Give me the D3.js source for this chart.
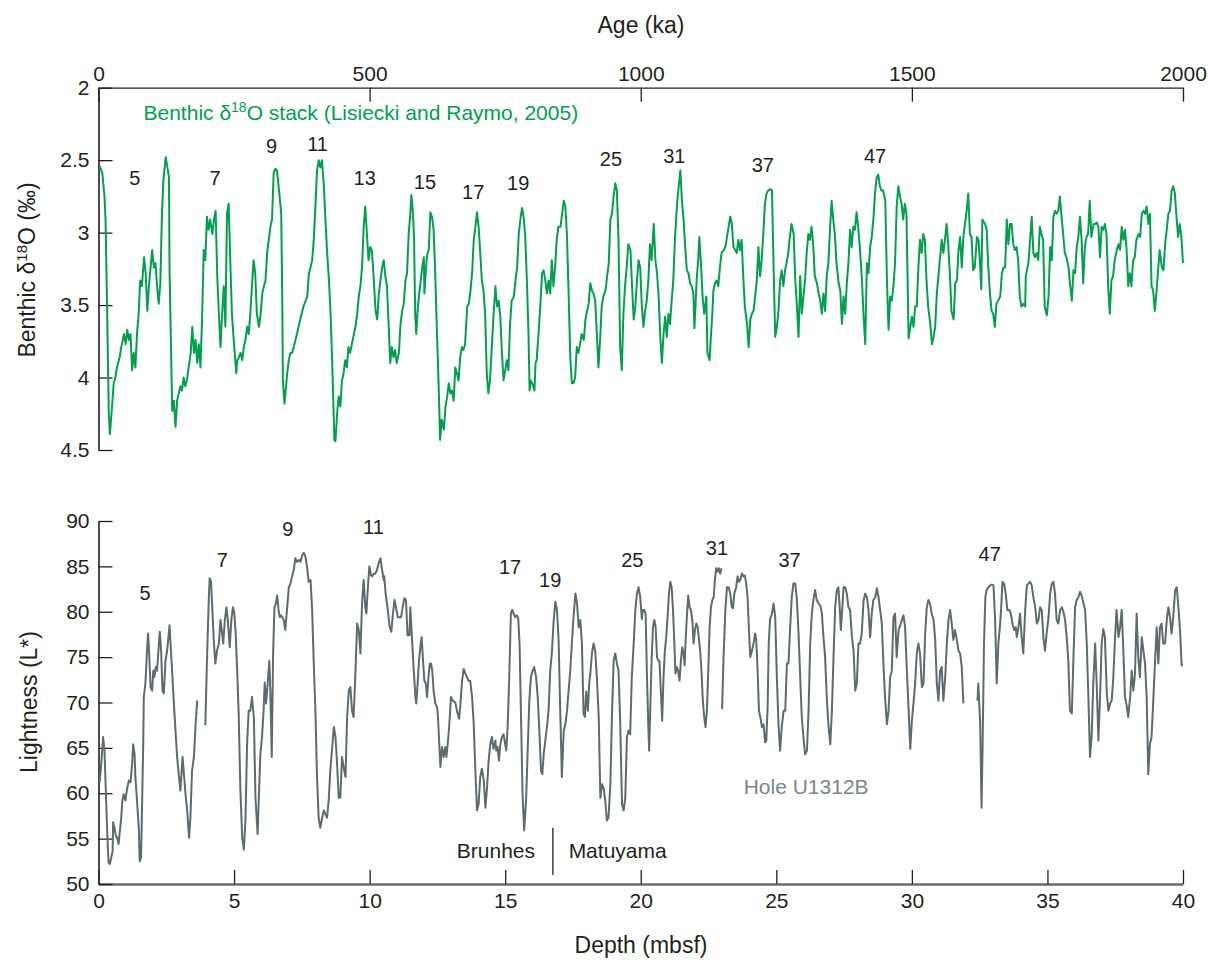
<!DOCTYPE html>
<html>
<head>
<meta charset="UTF-8">
<script src="https://cdn.jsdelivr.net/npm/d3@7"></script>
<style>
    body { margin: 0; background: #fff; }
    svg { display: block; font-family: "Liberation Sans", Arial, Helvetica, sans-serif; }
    .line { fill: none; stroke-width: 2; stroke-linejoin: round; }
</style>
</head>
<body>
<div id="chart"></div>
<script>
// Benthic d18O stack (age in ka, value in permil)
var ageKa = [2,7,11,13,16,19,21,25,28,31,34,39,42,47,50,53,56,59,62,65,68,71,74,77,80,84,87,90,93,96,99,102,105,108,111,114,117,120,124,127,130,131,136,139,142,145,148,151,154,157,160,163,170,173,176,179,182,185,188,191,194,197,200,203,206,210,213,216,219,222,225,228,231,234,237,240,243,246,249,254,256,259,262,265,268,271,274,277,280,283,286,289,292,296,299,302,305,308,311,314,317,320,323,326,329,331,334,337,339,340,343,348,351,354,357,360,366,369,372,378,385,388,391,394,397,400,403,406,409,412,415,418,421,425,428,431,433,435,437,440,443,446,449,452,455,458,461,464,471,474,477,480,483,486,489,492,495,498,501,
    504,507,511,514,517,520,523,526,529,532,535,538,541,544,547,550,554,557,560,563,566,569,572,575,577,580,582,584,586,589,591,593,597,600,601,605,607,609,612,615,618,621,624,627,630,633,637,640,643,646,649,652,655,658,661,664,667,670,673,676,680,683,686,689,692,695,698,701,704,707,710,713,716,719,722,726,729,732,735,738,741,744,747,750,753,756,759,762,766,769,772,775,778,781,784,787,790,793,795,797,800,804,806,808,812,815,818,821,824,827,830,833,836,839,842,845,848,852,855,858,861,864,867,870,873,876,879,882,885,888,891,895,898,901,904,907,910,913,916,919,922,925,928,931,935,938,941,944,947,950,953,956,959,962,965,968,971,974,977,981,984,987,990,993,996,999,
    1002,1005,1008,1011,1014,1017,1020,1024,1027,1030,1033,1036,1039,1042,1045,1048,1051,1054,1057,1060,1063,1067,1070,1073,1076,1079,1082,1085,1088,1091,1094,1097,1099,1102,1103,1106,1108,1111,1114,1117,1121,1123,1127,1129,1132,1134,1137,1140,1143,1146,1149,1153,1156,1159,1162,1165,1168,1171,1174,1177,1180,1183,1186,1189,1192,1196,1199,1202,1205,1208,1211,1214,1217,1220,1223,1226,1229,1232,1235,1239,1242,1245,1248,1251,1254,1257,1260,1263,1266,1269,1272,1275,1278,1282,1285,1288,1291,1294,1297,1300,1303,1306,1309,1312,1315,1318,1321,1325,1328,1331,1334,1337,1340,1343,1346,1349,1352,1355,1358,1361,1365,1368,1371,1374,1377,1380,1383,1386,1389,1392,1395,1398,1401,1404,1408,1411,1414,1417,1420,1423,1426,1429,1432,1435,1438,1441,1444,1447,1451,1454,1457,1460,1463,1466,1469,1472,1475,1478,1481,1484,1487,1490,1494,
    1500,1503,1506,1509,1512,1515,1518,1521,1524,1527,1530,1534,1537,1540,1543,1546,1549,1552,1555,1558,1561,1564,1567,1570,1573,1577,1580,1583,1586,1589,1592,1595,1598,1601,1604,1607,1610,1613,1616,1620,1623,1626,1628,1630,1635,1638,1641,1644,1647,1650,1653,1656,1659,1663,1666,1669,1672,1675,1678,1681,1684,1687,1690,1693,1696,1699,1702,1706,1709,1710,1715,1718,1721,1724,1727,1730,1733,1736,1739,1742,1745,1749,1752,1755,1758,1761,1764,1767,1770,1773,1776,1779,1782,1785,1789,1792,1795,1798,1801,1804,1807,1810,1813,1816,1819,1822,1825,1828,1831,1835,1838,1841,1844,1847,1850,1853,1856,1859,1862,1865,1868,1871,1874,1878,1881,1884,1887,1890,1893,1896,1899,1902,1905,1908,1911,1914,1918,1921,1924,1927,1930,1933,1936,1939,1942,1945,1948,1951,1954,1957,1961,1964,1967,1970,1973,1976,1979,1982,1985,1988,1991,1994,1997,2000];
var d18O = [2.54,2.59,2.75,2.91,3.56,4.25,4.39,4.20,4.04,4.00,3.93,3.86,3.79,3.70,3.77,3.67,3.74,3.70,3.95,3.83,3.93,3.70,3.56,3.33,3.37,3.17,3.28,3.54,3.37,3.24,3.12,3.24,3.21,3.37,3.49,3.35,2.87,2.62,2.48,2.55,2.62,3.26,4.23,4.16,4.34,4.16,4.11,4.06,4.09,4.00,4.06,4.02,3.83,3.65,3.83,3.74,3.90,3.77,3.93,3.60,3.12,3.19,2.89,2.98,2.91,3.01,2.91,2.85,3.30,3.56,3.79,3.56,3.37,3.65,2.87,2.80,3.19,3.56,3.72,3.97,3.88,3.86,3.83,3.88,3.79,3.74,3.65,3.70,3.56,3.37,3.19,3.28,3.56,3.65,3.56,3.42,3.37,3.33,3.14,3.05,2.96,2.91,2.59,2.56,2.57,2.64,2.75,2.87,3.51,4.02,4.18,3.97,3.88,3.83,3.83,3.79,3.70,3.65,3.60,3.51,3.44,3.28,3.24,3.19,3.05,2.82,2.57,2.50,2.55,2.50,2.64,2.87,3.10,3.33,3.56,3.90,4.16,4.43,4.44,4.25,4.13,4.20,4.02,3.97,3.88,3.93,3.79,3.83,3.70,3.65,3.56,3.44,3.37,3.24,2.96,2.82,3.01,3.19,3.10,
    3.12,3.28,3.54,3.60,3.42,3.33,3.24,3.19,3.30,3.37,3.63,3.90,3.79,3.86,3.81,3.90,3.83,3.63,3.54,3.49,3.33,3.28,3.01,2.87,2.74,2.87,3.05,3.56,3.70,3.51,3.44,3.37,3.24,3.17,3.42,3.19,3.14,3.12,2.86,2.89,2.98,3.28,3.67,4.02,4.43,4.29,4.36,4.20,4.13,4.04,4.11,4.09,4.16,3.93,3.97,4.02,3.86,3.79,3.81,3.77,3.51,3.49,3.40,3.28,3.05,2.96,2.86,2.96,3.14,3.33,3.40,3.56,3.97,4.11,4.02,3.74,3.54,3.37,3.51,3.47,3.58,3.83,4.02,3.95,3.88,3.95,3.63,3.47,3.44,3.33,3.24,3.01,2.91,2.83,2.89,3.03,3.33,3.70,4.09,4.02,4.04,4.09,3.90,3.88,3.67,3.49,3.28,3.26,3.33,3.42,3.33,3.42,3.19,3.37,3.24,3.05,2.96,2.96,2.87,2.78,2.82,3.03,3.42,3.86,4.04,4.04,4.00,3.79,3.83,3.77,3.70,3.74,3.60,3.54,3.49,3.35,3.40,3.42,3.47,3.70,3.93,3.74,3.51,3.44,3.40,3.30,3.21,2.91,2.87,2.75,2.66,2.71,3.05,3.79,3.95,3.56,3.37,3.24,3.08,3.12,3.37,3.60,3.51,3.33,3.19,3.24,
    3.51,3.65,3.54,3.47,3.33,3.08,3.19,2.94,3.19,3.28,3.44,3.72,3.90,3.70,3.58,3.72,3.56,3.63,3.47,3.33,3.05,2.80,2.68,2.57,2.78,2.91,3.10,3.26,3.28,3.35,3.37,3.42,3.66,3.42,3.33,3.19,3.03,3.21,3.44,3.56,3.44,3.83,3.88,3.74,3.56,3.40,3.35,3.33,3.37,3.24,3.14,3.12,3.10,3.03,2.96,2.89,2.94,3.10,3.12,3.14,3.05,3.12,3.05,3.30,3.51,3.63,3.79,3.60,3.56,3.54,3.44,3.33,3.10,3.30,3.19,3.01,2.80,2.73,2.71,2.70,2.71,3.24,3.72,3.65,3.54,3.33,3.26,3.37,3.26,3.21,3.14,3.03,2.94,3.01,3.33,3.51,3.72,3.30,3.56,3.44,3.33,3.14,3.01,3.05,2.96,3.08,3.30,3.35,3.42,3.47,3.56,3.42,3.54,3.30,3.21,2.98,2.78,2.91,3.01,3.21,3.35,3.40,3.63,3.44,3.56,3.35,3.21,2.98,3.10,2.96,2.98,2.86,2.96,3.10,3.33,3.58,3.77,3.21,3.28,3.10,3.03,2.91,2.73,2.62,2.60,2.68,2.71,2.71,2.78,3.33,3.67,3.44,3.47,3.37,3.21,2.82,2.68,2.75,2.80,2.91,2.80,2.87,3.73,
    3.58,3.65,3.51,3.51,3.24,3.05,3.14,3.01,3.05,3.33,3.51,3.63,3.77,3.72,3.65,3.42,3.30,3.17,3.05,3.14,3.05,2.94,3.08,3.28,3.54,3.60,3.35,3.33,3.12,3.03,3.24,3.03,2.94,2.85,2.73,3.01,3.03,3.26,3.24,3.03,3.05,3.24,3.39,2.91,2.94,2.98,3.24,3.42,3.54,3.56,3.65,3.49,3.47,3.44,3.28,3.24,3.24,2.91,3.08,2.94,2.94,3.08,3.12,3.10,3.19,3.44,3.51,3.49,3.51,3.30,3.21,3.05,2.89,3.14,3.17,3.14,3.19,2.96,3.01,3.05,3.51,3.57,3.44,3.10,3.19,2.89,2.85,2.87,2.85,2.75,2.89,3.01,3.14,3.17,3.24,3.37,3.47,3.26,3.28,3.10,3.03,2.89,3.05,3.35,3.10,3.03,3.01,2.78,3.03,2.94,2.94,2.93,2.96,3.17,2.96,2.98,2.94,3.01,3.37,3.56,3.33,3.30,3.19,3.12,3.08,3.12,2.96,3.05,2.98,3.12,3.37,3.28,3.37,3.19,3.17,3.05,3.01,3.03,2.87,2.85,2.87,2.82,2.94,2.87,3.37,3.40,3.54,3.42,3.26,3.12,3.24,3.26,3.08,2.98,2.87,2.85,2.71,2.68,2.73,2.89,3.03,2.94,3.03,3.21];

// Hole U1312B lightness (depth in m, L*); null = core gap
var depthM = [0.04,0.10,0.17,0.22,0.27,0.32,0.37,0.42,0.47,0.52,0.54,0.59,0.64,0.69,0.74,0.79,0.84,0.88,0.93,0.99,1.06,1.12,1.18,1.24,1.28,1.33,1.36,1.43,1.49,1.52,1.57,1.61,1.65,1.67,1.73,1.79,1.83,1.87,1.92,1.98,2.02,2.06,2.11,2.16,2.22,2.26,2.31,2.36,2.41,2.47,2.53,2.62,2.65,2.72,2.78,2.84,2.90,2.96,3.02,3.06,3.10,3.15,3.21,3.27,3.34,3.39,3.45,3.52,3.58,3.64,3.80,
    3.94,4.01,4.07,4.10,4.15,4.20,4.25,4.31,4.37,4.44,4.50,4.56,4.60,4.66,4.72,4.77,4.84,4.90,4.96,5.01,5.06,5.11,5.17,5.23,5.30,5.36,5.42,5.48,5.54,5.60,5.66,5.73,5.79,5.87,5.91,5.97,6.03,6.09,6.13,6.18,6.24,6.30,6.34,6.39,6.44,6.49,6.54,6.59,6.64,6.69,6.73,6.78,6.83,6.89,6.96,7.02,7.08,7.14,7.20,7.26,7.32,7.39,7.45,7.51,7.57,7.63,7.69,7.75,7.82,7.88,7.94,8.00,8.06,8.12,8.18,8.25,8.31,8.37,8.43,8.49,8.55,8.61,8.68,8.74,8.80,8.86,8.92,8.98,9.04,9.11,9.17,9.23,9.29,9.35,9.41,9.47,9.54,9.60,
    9.66,9.72,9.78,9.84,9.88,9.93,9.99,10.05,10.10,10.15,10.21,10.27,10.33,10.40,10.46,10.52,10.54,10.59,10.67,10.74,10.80,10.86,10.92,10.97,11.04,11.10,11.16,11.22,11.28,11.34,11.40,11.47,11.50,11.56,11.62,11.69,11.72,11.77,11.82,11.87,11.92,11.97,12.02,12.07,12.12,12.17,12.22,12.26,12.31,12.36,12.42,12.49,12.52,12.57,12.61,12.67,12.73,12.79,12.83,12.88,12.94,13.00,13.07,13.16,13.22,13.30,13.35,13.41,13.47,13.53,13.59,13.65,13.71,13.78,13.84,13.90,13.96,14.02,14.08,14.14,14.21,14.27,14.33,14.39,14.45,14.51,14.57,14.64,14.67,14.72,14.77,14.82,14.88,14.94,15.00,15.04,15.09,15.15,15.21,15.26,15.31,15.37,15.43,15.48,15.53,15.58,15.64,15.70,15.77,15.83,15.89,15.95,16.01,16.07,16.14,16.20,16.26,16.32,16.37,16.42,16.48,16.54,16.60,16.66,16.72,16.79,16.85,16.91,16.97,17.03,17.09,17.16,17.22,17.28,17.34,17.40,17.46,17.52,17.59,17.65,17.71,17.77,17.83,17.89,17.94,17.99,18.05,18.10,18.14,18.20,18.26,18.32,18.38,18.45,18.51,18.57,18.63,18.69,18.75,18.81,18.88,18.94,19.00,19.06,19.12,19.18,19.24,19.31,19.37,19.43,19.49,19.55,
    19.61,19.67,19.74,19.80,19.86,19.92,19.98,20.04,20.08,20.13,20.18,20.23,20.28,20.31,20.35,20.40,20.45,20.50,20.55,20.60,20.65,20.69,20.74,20.79,20.84,20.89,20.94,20.99,21.04,21.09,21.14,21.19,21.24,21.28,21.33,21.38,21.43,21.48,21.53,21.58,21.62,21.65,21.70,21.75,21.80,21.85,21.90,21.95,22.00,22.05,22.10,22.14,22.19,22.24,22.29,22.34,22.39,22.44,22.49,22.54,22.59,22.64,22.69,22.73,22.78,22.83,22.88,22.93,22.98,22.99,
    23.00,23.05,23.12,23.18,23.24,23.30,23.36,23.40,23.45,23.52,23.57,23.62,23.67,23.73,23.79,23.84,23.89,23.94,23.99,24.04,24.10,24.16,24.22,24.26,24.31,24.36,24.41,24.47,24.53,24.59,24.63,24.68,24.72,24.77,24.84,24.90,24.96,25.02,25.08,25.14,25.20,25.27,25.33,25.39,25.45,25.51,25.57,25.63,25.70,25.76,25.82,25.88,25.94,26.00,26.06,26.13,26.19,26.25,26.31,26.37,26.43,26.49,26.56,26.62,26.68,26.74,26.80,26.86,26.92,26.99,27.05,27.11,27.17,27.23,27.29,27.33,27.38,27.43,27.48,27.54,27.60,27.66,27.72,27.79,27.85,27.91,27.97,28.03,28.09,28.15,28.22,28.28,28.34,28.40,28.46,28.52,28.58,28.65,28.71,28.77,28.83,28.89,28.95,29.01,29.08,29.14,29.20,29.26,29.32,29.38,29.44,29.51,
    29.57,29.63,29.69,29.75,29.81,29.87,29.94,30.00,30.06,30.12,30.18,30.24,30.30,30.37,30.43,30.49,30.55,30.61,30.67,30.73,30.80,30.86,30.92,30.98,31.04,31.10,31.16,31.23,31.29,31.35,31.41,31.47,31.53,31.59,31.66,31.72,31.78,31.84,31.90,32.10,
    32.42,32.45,32.52,32.57,32.61,32.66,32.71,32.76,32.82,32.89,32.95,33.01,33.07,33.13,33.19,33.25,33.29,33.34,33.40,33.46,33.52,33.59,33.65,33.71,33.77,33.83,33.87,33.93,33.99,34.05,34.11,34.18,34.24,34.30,34.36,34.42,34.48,34.54,34.61,34.67,34.73,34.79,34.85,34.91,34.97,35.04,35.10,35.16,35.22,35.28,35.34,35.40,35.47,35.53,35.59,35.65,35.71,35.77,35.83,35.90,35.96,36.02,36.08,36.14,36.20,36.26,36.33,36.39,36.45,36.51,36.57,36.63,36.69,36.76,36.82,36.88,36.94,37.00,37.06,37.12,37.19,37.25,37.31,37.37,37.43,37.49,37.55,37.62,37.68,37.74,37.80,37.86,37.92,37.98,38.05,38.11,38.17,38.23,38.29,38.35,38.41,38.48,38.54,38.60,38.66,38.72,38.78,38.84,38.91,38.97,39.03,39.09,39.15,39.21,39.27,39.34,39.40,39.46,39.52,39.58,39.64,39.71,39.77,39.83,39.89,39.95,40.00];
var lightness = [61.2,63.2,66.2,64.7,60.3,55.9,52.4,52.2,52.9,53.6,56.8,56.2,55.3,55.1,54.4,55.9,57.3,59.2,59.9,59.2,60.6,61.4,61.2,63.2,65.4,64.3,61.8,58.8,55.9,52.5,52.9,59.2,65.4,70.6,72.1,75.7,77.6,75.4,71.7,71.3,73.5,72.8,73.9,73.5,76.1,77.8,75.7,71.3,71.0,74.6,75.7,78.5,76.9,73.2,69.9,66.9,64.0,62.1,60.3,62.1,64.0,62.1,59.9,58.1,55.1,57.3,62.5,64.0,67.6,70.2,null,
    67.5,75.7,81.6,83.7,83.3,80.2,76.9,74.3,75.7,76.5,79.1,77.6,76.5,79.1,80.5,79.1,76.1,79.1,80.5,79.8,77.6,73.9,68.8,60.6,55.1,53.8,57.0,65.4,69.1,69.1,70.6,68.4,59.5,55.5,59.2,64.3,66.2,69.1,72.2,69.9,72.1,74.6,71.0,64.0,75.4,80.5,80.9,81.8,80.2,79.4,79.6,79.4,79.1,78.0,80.5,82.7,83.1,83.9,84.6,85.9,85.5,85.7,85.5,86.2,86.5,86.1,85.0,83.3,83.5,80.2,74.3,69.1,61.8,57.3,56.2,57.3,58.1,57.7,57.3,59.2,62.5,64.7,67.3,66.2,63.2,59.5,59.5,64.0,62.9,61.8,68.4,71.3,71.7,69.1,68.4,72.8,78.7,78.0,
    75.4,80.9,83.5,80.5,79.8,82.4,85.0,84.0,83.9,84.2,84.2,84.6,85.3,85.9,84.6,83.5,83.9,82.0,80.2,78.3,77.8,79.8,81.3,80.5,79.4,79.4,79.4,80.5,81.5,81.3,77.4,77.4,80.5,77.2,73.9,70.6,69.9,72.1,74.6,76.1,77.2,74.6,72.4,72.1,70.6,72.8,74.3,74.3,73.5,71.3,69.9,69.5,68.4,65.4,62.9,65.1,64.0,65.1,64.0,65.4,67.6,70.6,70.2,70.0,69.1,68.2,69.9,72.4,73.7,73.2,72.8,72.4,72.4,70.6,67.6,62.5,58.1,58.8,61.8,62.7,61.4,58.4,60.6,63.6,65.4,66.2,64.9,65.8,64.7,65.1,63.6,65.4,66.2,66.5,65.4,64.7,67.3,72.8,79.8,80.2,79.8,79.4,79.6,79.3,76.5,69.1,59.9,55.9,59.2,64.7,70.2,72.8,73.5,73.9,72.8,70.6,66.9,62.5,62.1,64.3,65.8,67.3,69.1,73.5,75.4,79.1,81.1,80.2,76.9,69.1,61.8,66.9,67.6,69.1,71.3,73.5,76.5,79.4,82.0,80.9,78.3,79.1,76.5,68.8,68.4,71.2,69.1,72.1,73.2,75.4,76.5,75.7,72.8,68.4,59.5,61.0,60.6,59.2,57.0,57.3,61.0,68.8,74.6,75.4,74.3,73.5,68.0,58.8,58.1,59.5,66.2,66.9,
    66.5,72.8,76.5,80.2,82.0,82.7,81.6,79.2,80.2,80.2,79.8,72.8,67.3,64.7,69.1,74.6,78.3,79.1,78.3,75.0,74.6,74.6,71.3,68.0,72.8,75.7,77.2,79.4,82.0,83.3,82.7,80.2,76.5,73.2,73.9,73.5,72.4,74.6,76.1,75.4,74.1,76.5,79.4,81.8,80.5,80.2,79.1,76.5,78.0,78.7,78.3,77.2,75.7,73.5,70.2,68.4,67.3,69.1,73.5,78.3,80.5,81.3,81.6,83.3,84.8,84.4,84.8,84.2,84.8,null,
    69.3,74.6,80.2,82.7,82.7,82.0,80.5,80.4,82.0,82.7,83.9,83.3,83.5,84.2,83.9,84.0,83.1,81.6,78.0,75.0,75.7,76.5,77.6,76.9,73.5,69.1,68.4,67.3,67.6,65.6,65.8,69.5,76.5,79.2,79.8,80.9,79.4,72.8,67.6,64.7,67.3,69.1,69.1,74.3,74.3,78.3,81.6,83.1,83.1,81.3,77.6,72.8,68.4,66.2,64.3,64.7,69.1,76.5,79.8,81.3,82.4,81.3,80.9,80.7,79.8,77.2,75.0,70.6,67.6,65.4,69.1,75.0,80.5,82.4,82.7,80.9,78.0,80.2,82.7,82.7,82.0,80.5,80.2,77.2,75.7,71.3,72.1,76.5,76.5,77.6,81.3,82.0,81.6,80.2,77.2,79.8,81.3,81.6,82.6,81.6,80.2,78.7,74.3,70.6,67.6,69.1,72.8,73.5,79.4,79.8,75.0,78.0,
    78.5,79.1,79.6,78.3,73.9,69.9,64.9,68.0,69.9,72.1,75.4,76.5,75.4,71.7,72.1,77.6,80.5,81.3,80.9,79.8,79.1,76.9,72.1,70.2,73.5,73.9,70.2,72.8,76.5,79.1,80.2,78.7,76.9,78.0,76.9,75.7,75.4,73.9,69.9,null,
    70.2,72.1,67.6,58.4,65.4,76.5,81.6,82.4,82.7,82.9,83.0,82.9,79.1,72.1,76.5,78.5,80.2,83.3,83.1,82.0,80.2,80.2,79.8,78.7,78.0,78.3,77.2,78.3,79.8,77.2,75.4,80.2,82.9,83.1,83.3,82.9,81.6,80.7,78.7,79.1,80.5,80.2,77.2,75.7,77.6,79.4,82.0,83.1,83.3,82.0,79.1,78.7,80.2,80.5,80.0,79.1,77.2,74.6,69.1,68.8,75.0,80.5,81.3,81.6,82.2,81.8,80.9,80.2,76.5,70.6,64.0,66.2,72.1,76.5,71.7,65.8,70.6,76.5,78.1,77.2,71.0,69.1,69.9,70.2,72.8,76.9,80.2,77.2,78.3,80.2,75.7,70.6,69.7,68.4,70.6,73.5,71.3,73.2,79.8,75.0,72.8,77.2,75.7,74.3,70.6,62.1,65.4,66.2,70.6,74.6,78.3,74.3,78.3,78.7,76.5,76.5,79.1,80.5,79.4,77.6,79.4,82.4,82.7,80.5,78.0,74.1,74.1];

// axis ticks
var ageTicks = [0, 500, 1000, 1500, 2000];
var d18OTicks = [2, 2.5, 3, 3.5, 4, 4.5];
var depthTicks = [0, 5, 10, 15, 20, 25, 30, 35, 40];
var lightTicks = [50, 55, 60, 65, 70, 75, 80, 85, 90];

// marine isotope stage labels: [text, position]
var stagesTop = [["5", 67, 2.62], ["7", 215, 2.62], ["9", 319, 2.40], ["11", 404, 2.39], ["13", 491, 2.62], ["15", 602, 2.65],
    ["17", 691, 2.72], ["19", 774, 2.66], ["25", 945, 2.49], ["31", 1062, 2.47], ["37", 1225, 2.53], ["47", 1432, 2.47]];
var stagesBottom = [["5", 1.72, 82.1], ["7", 4.57, 85.7], ["9", 6.98, 89.1], ["11", 10.14, 89.3], ["17", 15.18, 84.9], ["19", 16.66, 83.5],
    ["25", 19.69, 85.7], ["31", 22.81, 87.0], ["37", 25.49, 85.7], ["47", 32.87, 86.4]];
var bmDepth = 16.76; // Brunhes / Matuyama boundary

var width = 1208, height = 960;
var green = "#00a04f", grey = "#5f6a6f", ink = "#231f20";
var fontSize = 21;

var svg = d3.select("#chart").append("svg")
    .attr("width", width)
    .attr("height", height);

// scales
var xAge = d3.scaleLinear().domain([0, 2000]).range([98.5, 1183]);
var yIso = d3.scaleLinear().domain([2, 4.5]).range([87.7, 450]);
var xDepth = d3.scaleLinear().domain([0, 40]).range([98.5, 1183]);
var yL = d3.scaleLinear().domain([50, 90]).range([884, 521]);

function styleAxis(g, w) {
    g.attr("font-size", fontSize)
        .attr("font-family", "\"Liberation Sans\", Arial, sans-serif")
        .attr("color", ink);
    g.selectAll("line").attr("stroke-width", 1.3);
    g.select(".domain").attr("stroke-width", w || 1.3);
}

// top panel axes
svg.append("g")
    .attr("transform", "translate(0," + yIso(2) + ")")
    .call(d3.axisTop(xAge).tickValues(ageTicks).tickSize(-14).tickSizeOuter(0).tickPadding(7).tickFormat(d3.format("d")))
    .call(styleAxis);

svg.append("g")
    .attr("transform", "translate(" + xAge(0) + ",0)")
    .call(d3.axisLeft(yIso).tickValues(d18OTicks).tickSize(-14).tickSizeOuter(0).tickPadding(9).tickFormat(d3.format("~g")))
    .call(styleAxis, 1.6);

// bottom panel axes
svg.append("g")
    .attr("transform", "translate(0," + yL(50) + ")")
    .call(d3.axisBottom(xDepth).tickValues(depthTicks).tickSize(-14).tickSizeOuter(0).tickPadding(9))
    .call(function (g) {
        styleAxis(g, 2.6);
        g.select(".domain").attr("stroke", "#6b6b6b");
    });

svg.append("g")
    .attr("transform", "translate(" + xDepth(0) + ",0)")
    .call(d3.axisLeft(yL).tickValues(lightTicks).tickSize(-14).tickSizeOuter(0).tickPadding(9))
    .call(styleAxis, 1.6);

// benthic stack line
var isoLine = d3.line()
    .x(function (d, i) { return xAge(ageKa[i]); })
    .y(function (d) { return yIso(d); });

svg.append("path")
    .attr("class", "line")
    .attr("stroke", green)
    .attr("d", isoLine(d18O));

// lightness line, broken at core gaps
var lightLine = d3.line()
    .defined(function (d) { return d != null; })
    .x(function (d, i) { return xDepth(depthM[i]); })
    .y(function (d) { return yL(d); });

svg.append("path")
    .attr("class", "line")
    .attr("stroke", grey)
    .attr("d", lightLine(lightness));

// stage numbers
svg.append("g").selectAll("text")
    .data(stagesTop)
    .join("text")
    .attr("x", function (d) { return xAge(d[1]); })
    .attr("y", function (d) { return yIso(d[2]); })
    .attr("dy", "0.35em")
    .attr("text-anchor", "middle")
    .attr("font-size", 20)
    .attr("fill", ink)
    .text(function (d) { return d[0]; });

svg.append("g").selectAll("text")
    .data(stagesBottom)
    .join("text")
    .attr("x", function (d) { return xDepth(d[1]); })
    .attr("y", function (d) { return yL(d[2]); })
    .attr("dy", "0.35em")
    .attr("text-anchor", "middle")
    .attr("font-size", 20)
    .attr("fill", ink)
    .text(function (d) { return d[0]; });

// series labels
var isoLabel = svg.append("text")
    .attr("x", xAge(83))
    .attr("y", yIso(2.17))
    .attr("dy", "0.35em")
    .attr("font-size", fontSize)
    .attr("fill", green);
isoLabel.append("tspan").text("Benthic δ");
isoLabel.append("tspan").attr("font-size", 14).attr("dy", "-0.55em").text("18");
isoLabel.append("tspan").attr("dy", "0.38em").text("O stack (Lisiecki and Raymo, 2005)");

svg.append("text")
    .attr("x", xDepth(26.1))
    .attr("y", yL(60.7))
    .attr("dy", "0.35em")
    .attr("text-anchor", "middle")
    .attr("font-size", fontSize)
    .attr("fill", "#7b858a")
    .text("Hole U1312B");

// Brunhes / Matuyama boundary
svg.append("line")
    .attr("x1", xDepth(bmDepth)).attr("x2", xDepth(bmDepth))
    .attr("y1", yL(56.2)).attr("y2", yL(51))
    .attr("stroke", ink)
    .attr("stroke-width", 1.3);

svg.append("text")
    .attr("x", xDepth(16.1))
    .attr("y", yL(53.7))
    .attr("dy", "0.35em")
    .attr("text-anchor", "end")
    .attr("font-size", fontSize)
    .attr("fill", ink)
    .text("Brunhes");

svg.append("text")
    .attr("x", xDepth(17.34))
    .attr("y", yL(53.7))
    .attr("dy", "0.35em")
    .attr("font-size", fontSize)
    .attr("fill", ink)
    .text("Matuyama");

// axis titles
svg.append("text")
    .attr("x", 641).attr("y", 25)
    .attr("dy", "0.35em")
    .attr("text-anchor", "middle")
    .attr("font-size", 23)
    .attr("fill", ink)
    .text("Age (ka)");

svg.append("text")
    .attr("x", 641).attr("y", 945)
    .attr("dy", "0.35em")
    .attr("text-anchor", "middle")
    .attr("font-size", 23)
    .attr("fill", ink)
    .text("Depth (mbsf)");

var isoTitle = svg.append("text")
    .attr("transform", "translate(27,270) rotate(-90)")
    .attr("dy", "0.35em")
    .attr("text-anchor", "middle")
    .attr("font-size", 23)
    .attr("fill", ink);
isoTitle.append("tspan").text("Benthic δ");
isoTitle.append("tspan").attr("font-size", 15).attr("dy", "-0.55em").text("18");
isoTitle.append("tspan").attr("dy", "0.36em").text("O (‰)");

svg.append("text")
    .attr("transform", "translate(29,702) rotate(-90)")
    .attr("dy", "0.35em")
    .attr("text-anchor", "middle")
    .attr("font-size", 23)
    .attr("fill", ink)
    .text("Lightness (L*)");
</script>
</body>
</html>
